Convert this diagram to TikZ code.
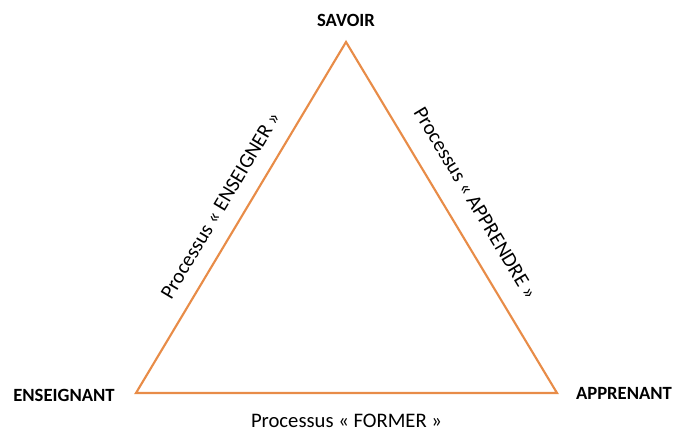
\documentclass[tikz,border=0pt]{standalone}
\usepackage{fontspec}
\setmainfont{Carlito}
\usepackage{tikz}
\definecolor{edgeorange}{RGB}{232,140,72}
\tikzset{
  pole/.style={font=\fontsize{14}{17}\selectfont\bfseries},
  process/.style={font=\fontsize{15.5}{18}\selectfont, inner sep=0pt},
  side/.style={draw=edgeorange, line width=1.6pt, line join=miter}
}

\begin{document}
\begin{tikzpicture}[x=0.75pt,y=0.75pt]
      \useasboundingbox (0,0) rectangle (678,431);
      %%%%%%%%%%%%%%%%%%%%%%%%%%%%%%%%%%%%%%%%%%%%%%%
      \coordinate (top) at (346,389);
      \coordinate (left) at (136,38);
      \coordinate (right) at (557,38);
      %%%%%%%%%%%%%%%%%%%%%%%%%%%%%%%%%%%%%%%%%%%%%%%
      \node[pole] at (346,411) (savoir)     {SAVOIR};
      \node[pole] at (64,36)   (enseignant) {ENSEIGNANT};
      \node[pole] at (624,38)  (apprenant)  {APPRENANT};
      %%%%%%%%%%%%%%%%%%%%%%%%%%%%%%%%%%%%%%%%%%%%%%%
      \draw[side] (left) -- node[process, midway, sloped, above=12pt] (enseigner) {Processus « ENSEIGNER »} (top)
            -- node[process, midway, sloped, above=15pt] (apprendre) {Processus « APPRENDRE »} (right)
            -- node[process, midway, below=15pt] (former) {Processus « FORMER »} (left) -- cycle;
      %%%%%%%%%%%%%%%%%%%%%%%%%%%%%%%%%%%%%%%%%%%%%%%
    \end{tikzpicture}
\end{document}
